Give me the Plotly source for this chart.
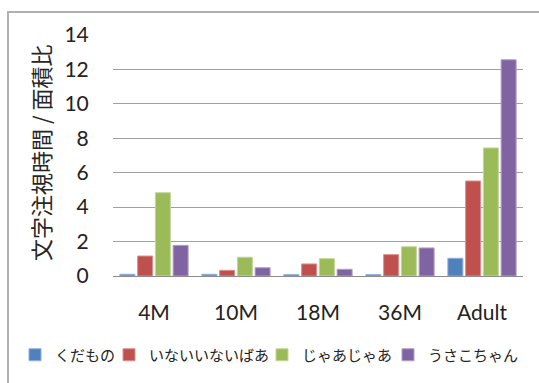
import plotly.graph_objects as go

categories = ["4M", "10M", "18M", "36M", "Adult"]
series_names = ["くだもの", "いないいないばあ", "じゃあじゃあ", "うさこちゃん"]
kudamono = [0.10, 0.10, 0.08, 0.08, 1.03]
inainaiba = [1.16, 0.33, 0.70, 1.24, 5.52]
jaajaa = [4.84, 1.09, 1.01, 1.70, 7.44]
usako = [1.78, 0.48, 0.39, 1.63, 12.56]
series_values = [kudamono, inainaiba, jaajaa, usako]
colors = ["#4F81BD", "#C0504D", "#9BBB59", "#8064A2"]
edge_colors = ["#8FB0DA", "#DB908E", "#C3D79A", "#B09FC8"]
y_ticks = [0, 2, 4, 6, 8, 10, 12, 14]

W, H = 539, 383
L, R, T, B = 113, 16, 35, 107
pw, ph = W - L - R, H - T - B

legend_text_x = [60, 154, 307, 433]  # pixel where each legend label starts
legend_ids = ["legend", "legend2", "legend3", "legend4"]

fig = go.Figure()
for name, vals, c, ec, lid in zip(series_names, series_values, colors, edge_colors, legend_ids):
    fig.add_trace(go.Bar(
        x=categories, y=vals, name=name, legend=lid,
        marker=dict(color=c, line=dict(color=ec, width=1)),
    ))

tick_font = dict(family="Lato, 'Liberation Sans', sans-serif", size=21, color="#222222")
legend_font = dict(family="Noto Sans CJK JP", size=15, color="#222222")

legend_layout = {}
for lid, tx in zip(legend_ids, legend_text_x):
    legend_layout[lid] = dict(
        orientation="h", x=(tx - 45 - L) / pw, xanchor="left",
        y=(276 - 355) / ph, yanchor="middle",
        font=legend_font, itemwidth=30, bgcolor="rgba(0,0,0,0)",
    )

fig.update_layout(
    width=W, height=H,
    margin=dict(l=L, r=R, t=T, b=B, autoexpand=False),
    paper_bgcolor="white", plot_bgcolor="white",
    barmode="group", bargap=0.134, bargroupgap=0.155,
    showlegend=True,
    xaxis=dict(
        showline=True, linecolor="#8C8C8C", linewidth=1.3,
        ticks="outside", ticklen=18, tickcolor="rgba(0,0,0,0)",
        tickfont=tick_font, showgrid=False,
    ),
    yaxis=dict(
        range=[0, 14], tickvals=y_ticks, ticktext=[str(v) for v in y_ticks],
        showgrid=True, gridcolor="#A0A0A0", gridwidth=1.4,
        zeroline=False, showline=False,
        ticks="outside", ticklen=19, tickcolor="rgba(0,0,0,0)",
        tickfont=tick_font,
    ),
    annotations=[dict(
        text="文字注視時間 / 面積比", textangle=-90,
        xref="paper", yref="paper", x=(40 - L) / pw, y=(276 - 153) / ph,
        xanchor="center", yanchor="middle", showarrow=False,
        font=dict(family="Noto Sans CJK JP", size=22, color="#262626"),
    )],
    shapes=[dict(
        type="rect", xref="paper", yref="paper",
        x0=(8 - L) / pw, x1=(W + 10 - L) / pw,
        y0=(276 - (H + 10)) / ph, y1=(276 - 12) / ph,
        line=dict(color="#B0B0B0", width=2), fillcolor="rgba(0,0,0,0)",
        layer="below",
    )],
    **legend_layout,
)

fig.write_html("out.html")
